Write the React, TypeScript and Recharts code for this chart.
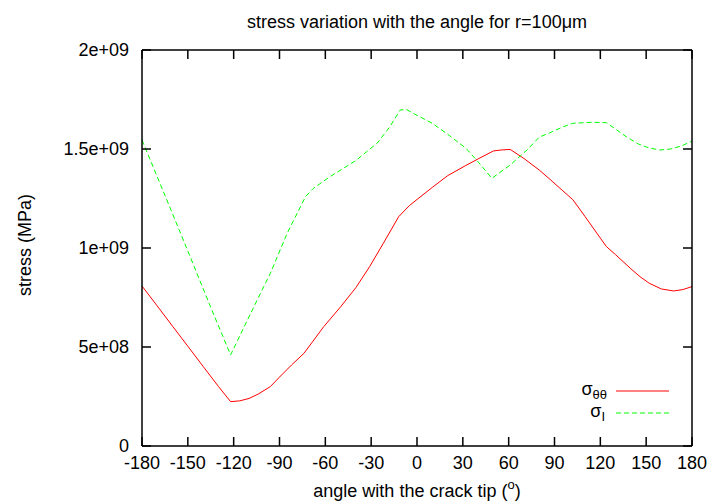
import React from 'react';
import { LineChart, Line, XAxis, YAxis } from 'recharts';

const angleTicks = [-180, -150, -120, -90, -60, -30, 0, 30, 60, 90, 120, 150, 180];
const stressTicks = [0, 5e8, 1e9, 1.5e9, 2e9];

// sigma_theta_theta (values in 1e9)
const thetaAngles = [-180, -170, -160, -150, -140, -130, -122, -116, -110, -104, -96, -90, -82, -74, -61, -50, -40, -31, -22, -12, -5, 0, 10, 20, 32, 40, 50, 55, 61, 70, 80, 87, 95, 102, 110, 120, 124, 130, 140, 146, 152, 160, 168, 174, 180];
const thetaStress = [0.808, 0.707, 0.605, 0.504, 0.402, 0.301, 0.224, 0.228, 0.24, 0.262, 0.3, 0.348, 0.41, 0.468, 0.603, 0.703, 0.8, 0.906, 1.024, 1.158, 1.214, 1.245, 1.306, 1.365, 1.417, 1.45, 1.49, 1.495, 1.498, 1.452, 1.394, 1.347, 1.292, 1.244, 1.159, 1.05, 1.007, 0.966, 0.895, 0.855, 0.822, 0.793, 0.783, 0.79, 0.805];

// sigma_I (values in 1e9)
const principalAngles = [-180, -166, -150, -135, -122, -110, -100, -96, -85, -73, -68, -57, -40, -26, -18, -11, -7, 0, 10, 20, 32, 40, 49, 61, 72, 80, 87, 95, 102, 115, 124, 130, 137, 145, 152, 159, 166, 173, 180];
const principalStress = [1.545, 1.285, 0.985, 0.7, 0.46, 0.652, 0.81, 0.872, 1.074, 1.259, 1.3, 1.36, 1.442, 1.53, 1.61, 1.697, 1.7, 1.67, 1.63, 1.575, 1.504, 1.435, 1.352, 1.419, 1.495, 1.56, 1.582, 1.61, 1.63, 1.635, 1.633, 1.6, 1.562, 1.525, 1.505, 1.495, 1.5, 1.515, 1.54];

const thetaData = thetaAngles.map((a, i) => ({ angle: a, stress: thetaStress[i] * 1e9 }));
const principalData = principalAngles.map((a, i) => ({ angle: a, stress: principalStress[i] * 1e9 }));

const font = 'Liberation Sans, Arial, Helvetica, sans-serif';
const axisStroke = { stroke: '#000', strokeWidth: 1.5 };
const TICK_LEN = 9;
const LABEL_GAP = 10;

const formatStress = (v: number) => {
  if (v === 0) return '0';
  return v.toExponential().replace(/e\+(\d)$/, 'e+0$1');
};

// gnuplot style: ticks point inward, labels outside
const BottomTick = (props: any) => {
  const { x, y, payload } = props;
  const axisY = y - LABEL_GAP;
  return (
    <g>
      <line x1={x} y1={axisY} x2={x} y2={axisY - TICK_LEN} stroke="#000" strokeWidth={1.5} />
      <text x={x} y={y} dy="0.71em" textAnchor="middle" fontSize={18} fontFamily={font} fill="#000">
        {payload.value}
      </text>
    </g>
  );
};

const TopTick = (props: any) => {
  const { x, y } = props;
  return <line x1={x} y1={y} x2={x} y2={y + TICK_LEN} stroke="#000" strokeWidth={1.5} />;
};

const LeftTick = (props: any) => {
  const { x, y, payload } = props;
  const axisX = x + 13;
  return (
    <g>
      <line x1={axisX} y1={y} x2={axisX + TICK_LEN} y2={y} stroke="#000" strokeWidth={1.5} />
      <text x={x} y={y} dy="0.355em" textAnchor="end" fontSize={18} fontFamily={font} fill="#000">
        {formatStress(payload.value)}
      </text>
    </g>
  );
};

const RightTick = (props: any) => {
  const { x, y } = props;
  return <line x1={x} y1={y} x2={x - TICK_LEN} y2={y} stroke="#000" strokeWidth={1.5} />;
};

const App: React.FC = () => {
  return (
    <div style={{ position: 'absolute', left: 0, top: 0, width: 710, height: 503, background: '#fff' }}>
      <LineChart width={710} height={503} margin={{ top: 49, right: 17, bottom: 0, left: 0 }} style={{ fontFamily: font }}>
        <XAxis
          dataKey="angle"
          type="number"
          domain={[-180, 180]}
          ticks={angleTicks}
          height={57}
          tick={<BottomTick />}
          tickSize={0}
          tickMargin={LABEL_GAP}
          axisLine={axisStroke}
          tickLine={false}
          interval={0}
          allowDataOverflow
        />
        <XAxis
          xAxisId="top"
          dataKey="angle"
          orientation="top"
          type="number"
          domain={[-180, 180]}
          ticks={angleTicks}
          height={1}
          tick={<TopTick />}
          tickSize={0}
          tickMargin={0}
          axisLine={axisStroke}
          tickLine={false}
          interval={0}
          allowDataOverflow
        />
        <YAxis
          type="number"
          domain={[0, 2e9]}
          ticks={stressTicks}
          width={142}
          tick={<LeftTick />}
          tickSize={0}
          tickMargin={13}
          axisLine={axisStroke}
          tickLine={false}
          interval={0}
          allowDataOverflow
        />
        <YAxis
          yAxisId="right"
          orientation="right"
          type="number"
          domain={[0, 2e9]}
          ticks={stressTicks}
          width={1}
          tick={<RightTick />}
          tickSize={0}
          tickMargin={0}
          axisLine={axisStroke}
          tickLine={false}
          interval={0}
          allowDataOverflow
        />
        <Line
          data={thetaData}
          dataKey="stress"
          type="linear"
          stroke="#ff0000"
          strokeWidth={1}
          dot={false}
          isAnimationActive={false}
          name="σθθ"
        />
        <Line
          data={principalData}
          dataKey="stress"
          type="linear"
          stroke="#00ff00"
          strokeWidth={1}
          strokeDasharray="5 3"
          dot={false}
          isAnimationActive={false}
          name="σI"
        />
        <text x={417} y={28} textAnchor="middle" fontSize={18} fontFamily={font} fill="#000">
          stress variation with the angle for r=100μm
        </text>
        <text x={417} y={497} textAnchor="middle" fontSize={18} fontFamily={font} fill="#000">
          angle with the crack tip (<tspan fontSize={13} dy={-8}>o</tspan><tspan dy={8}>)</tspan>
        </text>
        <text x={31} y={245} textAnchor="middle" fontSize={18} fontFamily={font} fill="#000" transform="rotate(-90, 31, 245)">
          stress (MPa)
        </text>
        <text x={607} y={395} textAnchor="end" fontSize={18} fontFamily={font} fill="#000">
          σ<tspan fontSize={13} dy={4}>θθ</tspan>
        </text>
        <line x1={616} y1={391} x2={669} y2={391} stroke="#ff0000" strokeWidth={1} />
        <text x={605} y={417} textAnchor="end" fontSize={18} fontFamily={font} fill="#000">
          σ<tspan fontSize={13} dy={4}>I</tspan>
        </text>
        <line x1={616} y1={413} x2={669} y2={413} stroke="#00ff00" strokeWidth={1} strokeDasharray="5 3" />
      </LineChart>
    </div>
  );
};

export default App;
